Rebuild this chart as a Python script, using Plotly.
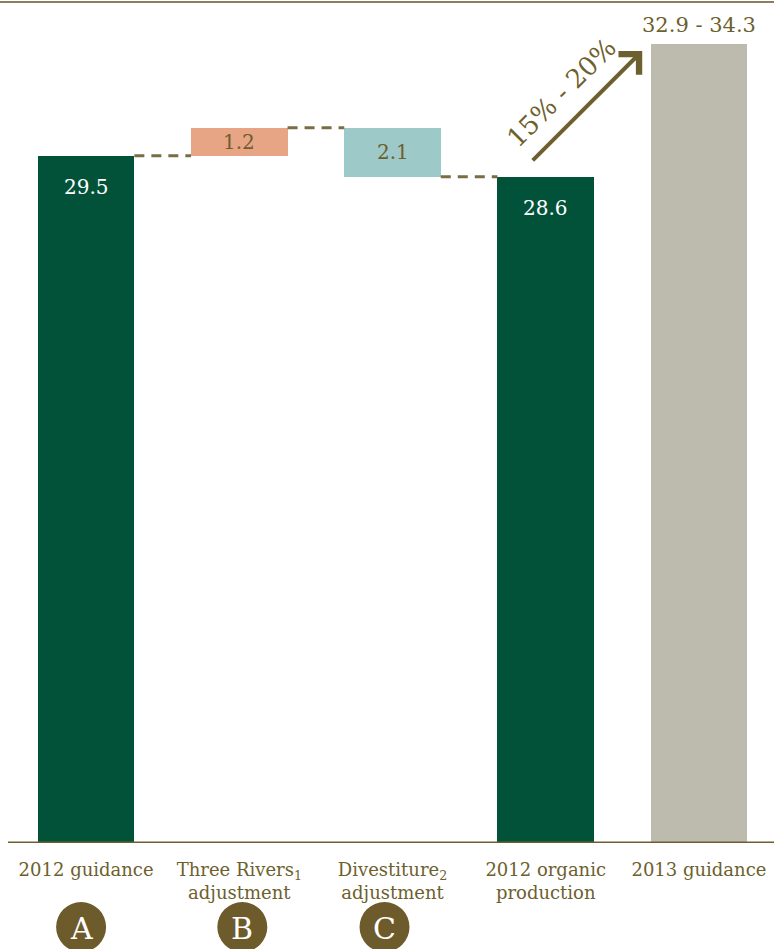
import plotly.graph_objects as go

# ---- data ----
categories = ["2012 guidance", "Three Rivers<sub>1</sub><br>adjustment",
              "Divestiture<sub>2</sub><br>adjustment", "2012 organic<br>production",
              "2013 guidance"]
guidance_2012 = 29.5
three_rivers = 1.2
divestiture = -2.1
organic_2012 = 28.6
guidance_2013_low = 32.9
guidance_2013_high = 34.3
growth_label = "15% - 20%"
markers = ["A", "B", "C"]

# ---- styles ----
GREEN = "#02523A"
SALMON = "#E8A586"
TEAL = "#9DC9C9"
GREY = "#BDBBAE"
OLIVE = "#6E5F2E"
LINE_OLIVE = "#7A6C45"
FONT = "DejaVu Serif"

after_rivers = guidance_2012 + three_rivers
heights = [guidance_2012, three_rivers, abs(divestiture), organic_2012, guidance_2013_high]
bases = [0, guidance_2012, after_rivers + divestiture, 0, 0]
colors = [GREEN, SALMON, TEAL, GREEN, GREY]
xs = list(range(len(categories)))
BW = 0.63

fig = go.Figure()
fig.add_trace(go.Bar(x=xs, y=heights, base=bases, width=BW,
                     marker=dict(color=colors, line=dict(width=0)),
                     hoverinfo="skip", showlegend=False))

# connectors
levels = [guidance_2012, after_rivers, organic_2012]
for i, lv in enumerate(levels):
    fig.add_shape(type="line", xref="x", yref="y",
                  x0=i + BW / 2, x1=i + 1 - BW / 2, y0=lv, y1=lv,
                  line=dict(color=LINE_OLIVE, width=3, dash="10px,7px"))

# value labels
fig.add_annotation(x=0, y=guidance_2012, text=f"{guidance_2012}", showarrow=False,
                   yanchor="middle", yshift=-31, font=dict(family=FONT, size=20, color="white"))
fig.add_annotation(x=3, y=organic_2012, text=f"{organic_2012}", showarrow=False,
                   yanchor="middle", yshift=-31, font=dict(family=FONT, size=20, color="white"))
fig.add_annotation(x=1, y=guidance_2012 + three_rivers / 2, text=f"{three_rivers}", showarrow=False,
                   yanchor="middle", font=dict(family=FONT, size=20, color=OLIVE))
fig.add_annotation(x=2, y=after_rivers + divestiture / 2, text=f"{abs(divestiture)}", showarrow=False,
                   yanchor="middle", font=dict(family=FONT, size=20, color=OLIVE))
fig.add_annotation(x=4, y=guidance_2013_high, text=f"{guidance_2013_low} - {guidance_2013_high}",
                   showarrow=False, yanchor="middle", yshift=19,
                   font=dict(family=FONT, size=21, color=OLIVE))

# growth arrow
fig.add_annotation(x=3.63, y=34.0, ax=-111, ay=111, text="", showarrow=True,
                   arrowhead=4, arrowsize=1.4, arrowwidth=4, arrowcolor=OLIVE)
fig.add_annotation(x=3.1, y=32.2, text=growth_label, showarrow=False, textangle=-45,
                   font=dict(family=FONT, size=26, color=OLIVE))

# circled letters
offsets = [-5, 3, -8]
for i, (m, off) in enumerate(zip(markers, offsets)):
    fig.add_shape(type="circle", xref="x", yref="paper", xsizemode="pixel", ysizemode="pixel",
                  xanchor=i, yanchor=0, x0=off - 25, x1=off + 25, y0=-109, y1=-59,
                  fillcolor="#6E5B2B", line=dict(width=0))
    fig.add_annotation(x=i, xshift=off, y=0, yref="paper", yshift=-85, text=m, showarrow=False,
                       yanchor="middle", font=dict(family=FONT, size=30, color="white"))

# baseline and top rule
fig.add_shape(type="line", xref="x", yref="y", x0=-0.51, x1=4.49, y0=0, y1=0,
              line=dict(color=OLIVE, width=3), layer="above")
fig.add_shape(type="line", xref="paper", yref="paper", x0=0, x1=1, y0=1, y1=1,
              line=dict(color="#8A7E5E", width=2))

fig.update_layout(
    width=774, height=949,
    margin=dict(l=0, r=0, t=2, b=106),
    plot_bgcolor="white", paper_bgcolor="white",
    bargap=0,
    xaxis=dict(range=[-0.562, 4.490], tickvals=xs, ticktext=categories,
               showgrid=False, zeroline=False, showline=False, ticks="",
               ticklabelstandoff=14, automargin=False,
               tickfont=dict(family=FONT, size=18, color=OLIVE)),
    yaxis=dict(range=[0, 36.1], showgrid=False, zeroline=False, showticklabels=False,
               ticks="", automargin=False),
)

fig.write_html("out.html")
